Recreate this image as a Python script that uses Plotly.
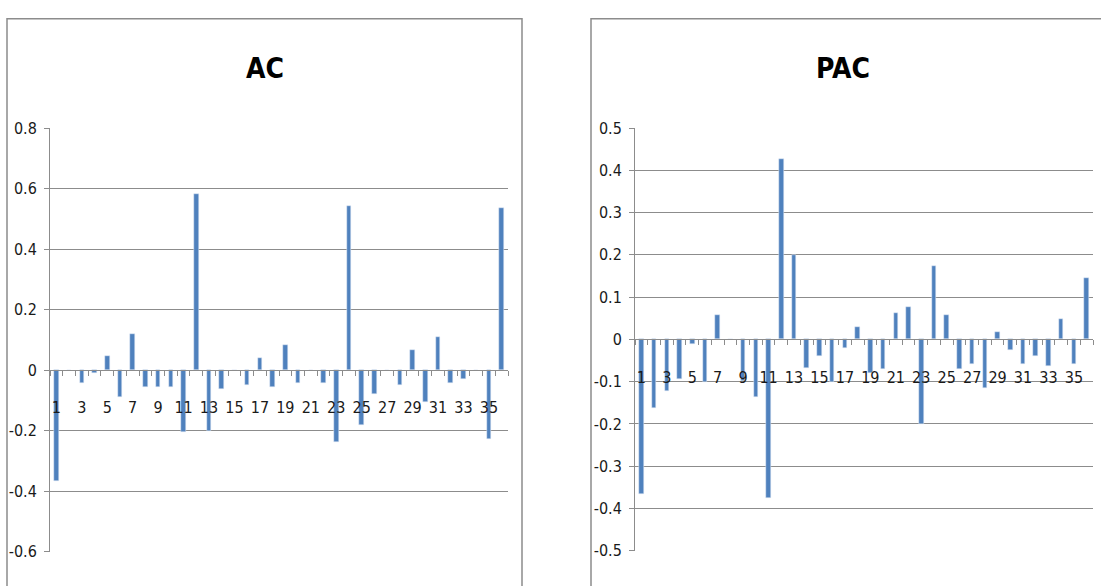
import plotly.graph_objects as go

lags = list(range(1, 37))
ac_values = [-0.365, 0.0, -0.042, -0.008, 0.046, -0.087, 0.118, -0.056, -0.056, -0.056,
             -0.205, 0.581, -0.2, -0.061, 0.0, -0.048, 0.039, -0.056, 0.084, -0.042,
             0.0, -0.042, -0.238, 0.543, -0.182, -0.08, 0.0, -0.048, 0.065, -0.106,
             0.11, -0.042, -0.03, 0.0, -0.226, 0.537]
pac_values = [-0.365, -0.162, -0.121, -0.094, -0.01, -0.1, 0.057, 0.0, -0.099, -0.135,
              -0.374, 0.426, 0.199, -0.067, -0.039, -0.1, -0.021, 0.03, -0.08, -0.07,
              0.062, 0.076, -0.2, 0.173, 0.058, -0.07, -0.058, -0.116, 0.017, -0.025,
              -0.058, -0.039, -0.064, 0.048, -0.058, 0.146]
x_tick_vals = list(range(1, 37, 2))
x_tick_text = [str(v) for v in x_tick_vals]
ac_y_ticks = [-0.6, -0.4, -0.2, 0, 0.2, 0.4, 0.6, 0.8]
ac_y_text = ["-0.6", "-0.4", "-0.2", "0", "0.2", "0.4", "0.6", "0.8"]
pac_y_ticks = [-0.5, -0.4, -0.3, -0.2, -0.1, 0, 0.1, 0.2, 0.3, 0.4, 0.5]
pac_y_text = ["-0.5", "-0.4", "-0.3", "-0.2", "-0.1", "0", "0.1", "0.2", "0.3", "0.4", "0.5"]
titles = ["AC", "PAC"]

W, H = 1101, 586
BAR = "#4F81BD"
GRID = "#8C8C8C"
FONT = "DejaVu Sans Condensed, Liberation Sans Narrow, Liberation Sans, sans-serif"

fig = go.Figure()
fig.add_trace(go.Bar(x=lags, y=ac_values, marker_color=BAR, width=0.36,
                     xaxis="x", yaxis="y", showlegend=False))
fig.add_trace(go.Bar(x=lags, y=pac_values, marker_color=BAR, width=0.36,
                     xaxis="x2", yaxis="y2", showlegend=False))

def px_x(p):
    return p / W

def px_y(p):
    return (H - p) / H

# plot areas (pixels)
L1 = (50, 508, 123, 561)
L2 = (635, 1093, 123, 560)

def zero_pos(area, lo, hi):
    top, bot = px_y(area[2]), px_y(area[3])
    return bot + (0 - lo) / (hi - lo) * (top - bot)

TICKFONT = dict(family=FONT, size=16, color="#1a1a1a")

def xaxis_cfg(area, lo, hi):
    return dict(
        domain=[px_x(area[0]), px_x(area[1])], range=[0.5, 36.5],
        anchor="free", position=zero_pos(area, lo, hi),
        showline=True, linecolor=GRID, linewidth=1,
        showgrid=False, zeroline=False,
        tickmode="array", tickvals=x_tick_vals, ticktext=x_tick_text,
        ticks="outside", ticklen=23, tickcolor="rgba(0,0,0,0)",
        tickfont=TICKFONT,
        minor=dict(tickmode="linear", tick0=0.5, dtick=1, ticks="outside",
                   ticklen=5, tickcolor=GRID, showgrid=False),
        fixedrange=True,
    )

def yaxis_cfg(area, lo, hi, tv, tt, xname):
    return dict(
        domain=[px_y(area[3]), px_y(area[2])], range=[lo, hi],
        anchor=xname, showline=True, linecolor=GRID, linewidth=1,
        showgrid=True, gridcolor=GRID, gridwidth=1, zeroline=False,
        tickmode="array", tickvals=tv, ticktext=tt,
        ticks="outside", ticklen=5, tickcolor=GRID, ticklabelstandoff=4,
        tickfont=TICKFONT,
        fixedrange=True,
    )

TITLEFONT = dict(family=FONT, size=28, color="black", weight="bold")

fig.update_layout(
    width=W, height=H, margin=dict(l=0, r=0, t=0, b=0),
    paper_bgcolor="white", plot_bgcolor="white", bargap=0,
    xaxis=xaxis_cfg(L1, -0.6, 0.8),
    yaxis=yaxis_cfg(L1, -0.6, 0.8, ac_y_ticks, ac_y_text, "x"),
    xaxis2=xaxis_cfg(L2, -0.5, 0.5),
    yaxis2=yaxis_cfg(L2, -0.5, 0.5, pac_y_ticks, pac_y_text, "x2"),
    shapes=[
        dict(type="rect", xref="paper", yref="paper",
             x0=px_x(7), x1=px_x(522), y0=-0.05, y1=px_y(10),
             line=dict(color=GRID, width=1.5), layer="below"),
        dict(type="rect", xref="paper", yref="paper",
             x0=px_x(591), x1=1.05, y0=-0.05, y1=px_y(10),
             line=dict(color=GRID, width=1.5), layer="below"),
    ],
    annotations=[
        dict(text=titles[0], x=px_x(265), y=px_y(61), xref="paper", yref="paper",
             showarrow=False, xanchor="center", yanchor="middle",
             font=TITLEFONT),
        dict(text=titles[1], x=px_x(843), y=px_y(61), xref="paper", yref="paper",
             showarrow=False, xanchor="center", yanchor="middle",
             font=TITLEFONT),
    ],
)

fig.write_html("out.html", config={"displayModeBar": False},
               post_script="document.body.style.margin='0';")
